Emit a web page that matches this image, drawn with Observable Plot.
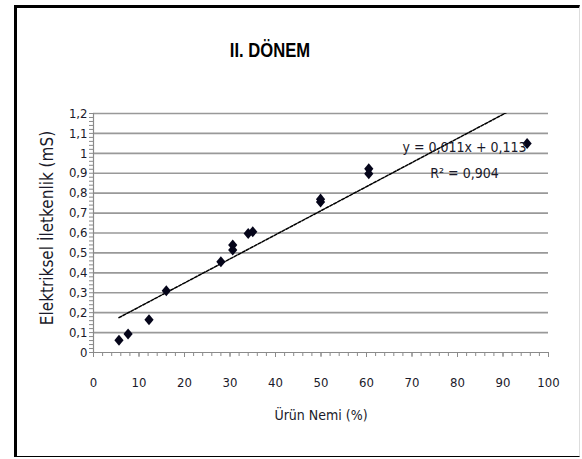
<!DOCTYPE html>
<html>
<head>
<meta charset="utf-8">
<script src="https://cdn.jsdelivr.net/npm/d3@7"></script>
<script src="https://cdn.jsdelivr.net/npm/@observablehq/plot@0.6"></script>
<style>
  html, body { margin: 0; padding: 0; background: #fff; }
  #page { position: relative; width: 582px; height: 459px; overflow: hidden; }
  #frame {
    position: absolute; left: 14px; top: 5px; width: 566px; height: 452px;
    box-sizing: border-box;
    border-left: 3px solid #000; border-top: 3px solid #000;
    border-bottom: 1.5px solid #000; border-right: 1px solid #ddd;
  }
  #title {
    position: absolute; left: 0; width: 540px; top: 39px; line-height: 22px;
    text-align: center; color: #000;
    font: bold 20px "Liberation Sans", Arial, sans-serif;
    transform: scaleX(0.83); transform-origin: 270px 50%;
  }
  #chart { position: absolute; left: 0; top: 0; }
</style>
</head>
<body>
<div id="page">
  <div id="frame"></div>
  <div id="title">II. DÖNEM</div>
  <div id="chart"></div>
</div>
<script>
// Ürün nemi (%) and electrical conductivity (mS), period II
const moisture     = [5.6, 7.6, 12.2, 16.0, 28.0, 30.6, 30.6, 34.0, 35.0, 49.9, 49.9, 60.5, 60.5, 95.3];
const conductivity = [0.062, 0.093, 0.164, 0.31, 0.456, 0.515, 0.540, 0.598, 0.606, 0.756, 0.770, 0.897, 0.922, 1.049];

const xTicks = [0, 10, 20, 30, 40, 50, 60, 70, 80, 90, 100];
const yTicks = [0, 0.1, 0.2, 0.3, 0.4, 0.5, 0.6, 0.7, 0.8, 0.9, 1, 1.1, 1.2];

const xLabel = "Ürün Nemi (%)";
const yLabel = "Elektriksel İletkenlik (mS)";
const equation = "y = 0,011x + 0,113";
const rSquared = "R² = 0,904";

const rows = moisture.map((m, i) => ({moisture: m, conductivity: conductivity[i]}));

// minor tick positions along both axes
const minorX = d3.range(51).map(i => i * 2);
const minorY = d3.range(61).map(i => i / 50);

const commaFormat = d => String(d).replace(".", ",");

// filled diamond, slightly taller than wide
const diamond = {
  draw(ctx, size) {
    const r = Math.sqrt(size / Math.PI);
    const hx = r, hy = r * 1.2;
    ctx.moveTo(0, -hy);
    ctx.lineTo(hx, 0);
    ctx.lineTo(0, hy);
    ctx.lineTo(-hx, 0);
    ctx.closePath();
  }
};

const ink = "#1a1a2a";
const axisGray = "#8a8a8a";

const chart = Plot.plot({
  width: 582,
  height: 459,
  marginLeft: 93,
  marginRight: 34,
  marginTop: 113,
  marginBottom: 107,
  style: {
    fontFamily: "'DejaVu Sans Condensed', 'DejaVu Sans', sans-serif",
    fontSize: "13px",
    color: ink,
    background: "transparent"
  },
  x: {domain: [0, 100], label: null},
  y: {domain: [0, 1.2], label: null},
  marks: [
    Plot.ruleY(yTicks.filter(d => d > 0), {stroke: "#999", strokeWidth: 1.7}),
    Plot.axisY(minorY, {tickSize: 4, tickFormat: () => "", stroke: axisGray}),
    Plot.axisY(yTicks, {tickSize: 0, tickPadding: 6, tickFormat: commaFormat, fill: ink}),
    Plot.axisX(minorX, {tickSize: 4, tickFormat: () => "", stroke: axisGray}),
    Plot.axisX(xTicks, {tickSize: 5, tickPadding: 20, tickFormat: d => String(d), fill: ink, stroke: axisGray}),
    Plot.ruleX([0], {stroke: axisGray, strokeWidth: 1.2}),
    Plot.ruleY([0], {stroke: axisGray, strokeWidth: 1.2}),
    Plot.linearRegressionY(rows, {
      x: "moisture", y: "conductivity", ci: 0,
      stroke: "#000", strokeWidth: 1.5, strokeDasharray: "3 1.5", clip: true
    }),
    Plot.dot(rows, {x: "moisture", y: "conductivity", symbol: diamond, r: 4.6, fill: "#05051a", stroke: null}),
    Plot.text([equation], {frameAnchor: "top-right", dx: -84, dy: 34, textAnchor: "middle", lineAnchor: "middle", fontSize: 14, fill: ink}),
    Plot.text([rSquared], {frameAnchor: "top-right", dx: -84, dy: 60, textAnchor: "middle", lineAnchor: "middle", fontSize: 14, fill: ink}),
    Plot.text([xLabel], {frameAnchor: "bottom", dy: 63, lineAnchor: "middle", fontSize: 14, fill: ink}),
    Plot.text([yLabel], {
      frameAnchor: "left", dx: -46, dy: -5, rotate: -90,
      textAnchor: "middle", lineAnchor: "middle", fontSize: 17, letterSpacing: "2.1px", fill: ink
    })
  ]
});

document.getElementById("chart").appendChild(chart);
</script>
</body>
</html>
